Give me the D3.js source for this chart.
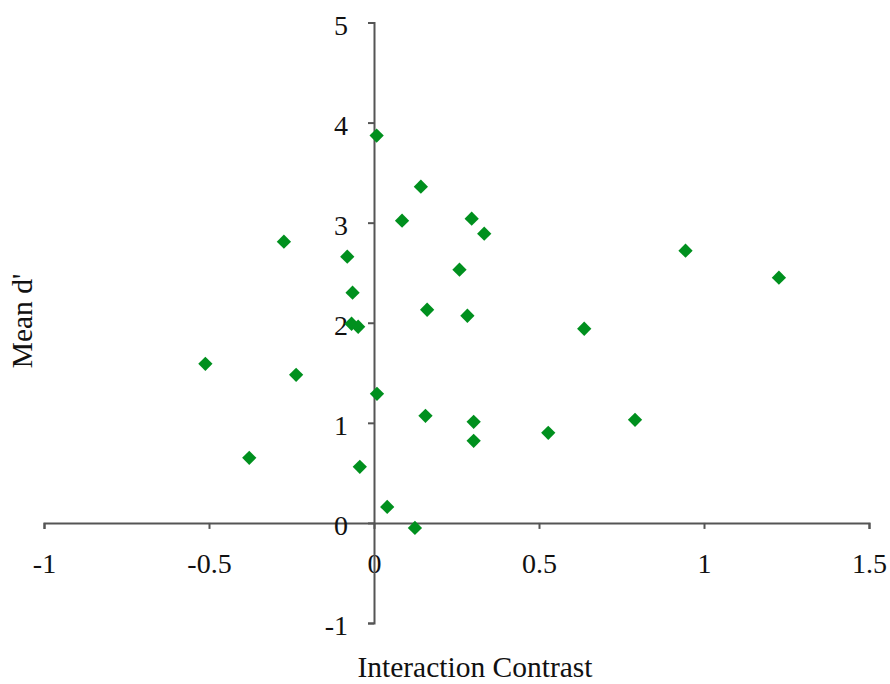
<!DOCTYPE html>
<html>
<head>
<meta charset="utf-8">
<script src="https://cdn.jsdelivr.net/npm/d3@7"></script>
<style>
  body { margin: 0; background: #fff; }
  svg { display: block; font-family: "Liberation Serif", "Times New Roman", serif; }
</style>
</head>
<body>
<svg></svg>
<script>
// Interaction contrast vs mean d'
const contrast = [-0.511, -0.378, -0.273, -0.236, -0.081, -0.065, -0.068, -0.048, -0.043,
  0.008, 0.009, 0.040, 0.085, 0.124, 0.142, 0.156, 0.161, 0.259, 0.283, 0.296,
  0.302, 0.302, 0.334, 0.528, 0.637, 0.791, 0.944, 1.227];
const meanD = [1.59, 0.65, 2.81, 1.48, 2.66, 2.30, 1.99, 1.96, 0.56,
  3.87, 1.29, 0.16, 3.02, -0.05, 3.36, 1.07, 2.13, 2.53, 2.07, 3.04,
  1.01, 0.82, 2.89, 0.90, 1.94, 1.03, 2.72, 2.45];

const xTicks = [-1, -0.5, 0, 0.5, 1, 1.5];
const yTicks = [-1, 0, 1, 2, 3, 4, 5];

const render = (data) => {
  const width = 890;
  const height = 684;

  const svg = d3.select("svg")
    .attr("width", width)
    .attr("height", height)

  const xScale = d3.scaleLinear()
    .domain([-1, 1.5])
    .range([44, 869])

  const yScale = d3.scaleLinear()
    .domain([-1, 5])
    .range([623, 22.5])

  const tickFormat = d => String(d) // plain hyphen, not the unicode minus
  const xAxis = d3.axisBottom(xScale)
    .tickValues(xTicks)
    .tickFormat(tickFormat)
    .tickSize(6)
    .tickSizeOuter(6)
    .tickPadding(24)
  const yAxis = d3.axisLeft(yScale)
    .tickValues(yTicks)
    .tickFormat(tickFormat)
    .tickSize(6)
    .tickSizeOuter(6)
    .tickPadding(20)

  const xAxisGroup = svg.append("g")
    .attr("transform", `translate(0, ${yScale(0)})`)
  const yAxisGroup = svg.append("g")
    .attr("transform", `translate(${xScale(0)}, 0)`)

  xAxis(xAxisGroup)
  yAxis(yAxisGroup)

  svg.selectAll(".domain, .tick line")
    .attr("stroke", "#555")
    .attr("stroke-width", 2)
  svg.selectAll(".tick text")
    .attr("fill", "#111")
    .attr("font-size", 28)
    .attr("font-family", "Liberation Serif")
  yAxisGroup.selectAll(".tick text")
    .attr("dy", "0.42em")

  // markers
  const diamond = d3.symbol().type(d3.symbolDiamond2).size(130);
  svg.append("g").selectAll("path")
    .data(data)
    .enter().append("path")
      .attr("d", diamond)
      .attr("transform", d => `translate(${xScale(d.x)}, ${yScale(d.y)})`)
      .attr("fill", "#00901e")

  svg.append("text")
    .text("Interaction Contrast")
    .attr("x", 475)
    .attr("y", 677)
    .attr("text-anchor", "middle")
    .attr("font-size", 29.5)
    .attr("fill", "#111")

  svg.append("text")
    .text("Mean d'")
    .attr("transform", "translate(32, 321) rotate(-90)")
    .attr("text-anchor", "middle")
    .attr("font-size", 29.5)
    .attr("fill", "#111")
}

const points = contrast.map((c, i) => ({x: c, y: meanD[i]}));
render(points);
</script>
</body>
</html>
